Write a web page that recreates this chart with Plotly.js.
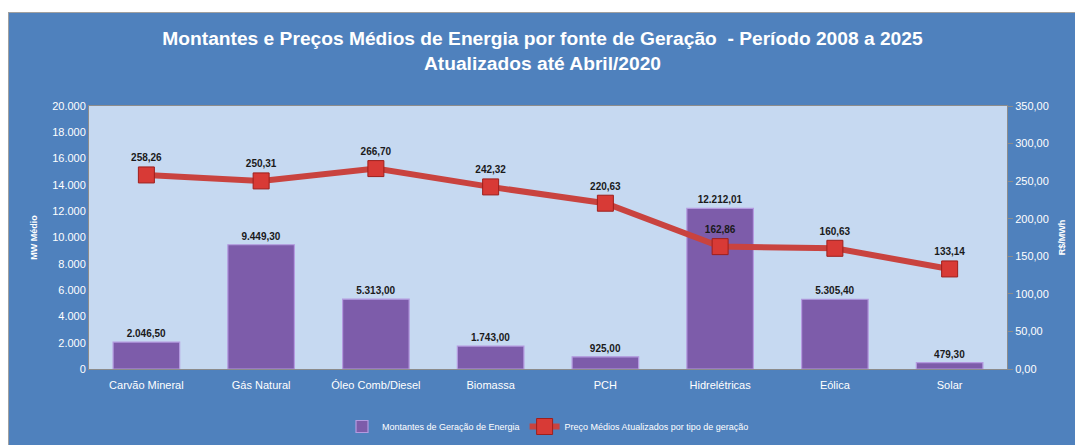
<!DOCTYPE html>
<html><head><meta charset="utf-8">
<script src="https://cdn.plot.ly/plotly-3.0.1.min.js"></script>
<style>
html,body{margin:0;padding:0;background:#ffffff;}
#chart{position:absolute;left:8px;top:12px;width:1067px;height:433px;border-top:1px solid #a0a0a0;border-left:1px solid #a0a0a0;box-sizing:border-box;overflow:hidden;}
</style></head>
<body><div id="chart"></div>
<script>
const categories = ["Carvão Mineral","Gás Natural","Óleo Comb/Diesel","Biomassa","PCH","Hidrelétricas","Eólica","Solar"];
const montantes = [2046.50, 9449.30, 5313.00, 1743.00, 925.00, 12212.01, 5305.40, 479.30];
const precos = [258.26, 250.31, 266.70, 242.32, 220.63, 162.86, 160.63, 133.14];
const yTicksLeft = [0,2000,4000,6000,8000,10000,12000,14000,16000,18000,20000];
const yTicksRight = [0,50,100,150,200,250,300,350];

function fmtBR(v){
  const parts = v.toFixed(2).split('.');
  parts[0] = parts[0].replace(/\B(?=(\d{3})+(?!\d))/g,'.');
  return parts[0] + ',' + parts[1];
}
const narrow = '"Liberation Sans Narrow", "Arial Narrow", Arial, sans-serif';

const bars = {
  type:'bar', x:categories, y:montantes, name:'Montantes de Geração de Energia',
  width:0.58,
  marker:{color:'#7d5caa', line:{color:'#b49ae0', width:1.2}},
  text:montantes.map(fmtBR), texttemplate:'<b>%{text}</b>', textposition:'outside', cliponaxis:false,
  textfont:{family:'Arial, sans-serif', size:10, color:'#1a1a1a'},
  hoverinfo:'x+y'
};
const line = {
  type:'scatter', mode:'lines+markers+text', x:categories, y:precos, yaxis:'y2',
  name:'Preço Médios Atualizados por tipo de geração',
  line:{color:'#c9433f', width:6},
  marker:{symbol:'square', size:16, color:'#d83a36', line:{color:'#9e1f1c', width:1}},
  text:precos.map(fmtBR), texttemplate:'<b>%{text}</b>', textposition:'top center', cliponaxis:false,
  textfont:{family:'Arial, sans-serif', size:10, color:'#1a1a1a'}
};

const layout = {
  width:1067, height:433,
  paper_bgcolor:'#4f81bd', plot_bgcolor:'#c6d9f1',
  separators:',.',
  margin:{l:80, r:69, t:93, b:77},
  title:{text:'<b>Montantes e Preços Médios de Energia por fonte de Geração  - Período 2008 a 2025<br>Atualizados até Abril/2020</b>',
    font:{family:narrow, size:19.2, color:'#ffffff'}, x:0.5, xanchor:'center', y:0.927, yanchor:'top'},
  showlegend:true,
  legend:{orientation:'h', x:0.5, xanchor:'center', yref:'container', y:0.045, yanchor:'middle',
    font:{family:narrow, size:9, color:'#ffffff'}, bgcolor:'rgba(0,0,0,0)'},
  bargap:0.42,
  xaxis:{type:'category', showgrid:false, showline:true, linecolor:'#8c8c8c', linewidth:1, mirror:true,
    ticks:'', ticklabelstandoff:6, tickfont:{family:narrow, size:11, color:'#ffffff'}, automargin:false},
  yaxis:{range:[0,20000], tickvals:yTicksLeft, tickformat:',.0f', showgrid:false, zeroline:false,
    showline:true, linecolor:'#8c8c8c', linewidth:1, ticks:'', ticklen:0,
    tickfont:{family:narrow, size:11, color:'#ffffff'}, automargin:false,
    title:{text:'<b>MW Médio</b>', font:{family:'Arial, sans-serif', size:9, color:'#ffffff'}, standoff:12}},
  yaxis2:{range:[0,350], tickvals:yTicksRight, tickformat:'.2f', overlaying:'y', side:'right',
    showgrid:false, zeroline:false, showline:true, linecolor:'#8c8c8c', linewidth:1,
    ticks:'outside', ticklen:5, tickcolor:'#8c8c8c',
    tickfont:{family:narrow, size:11, color:'#ffffff'}, automargin:false,
    title:{text:'<b>R$/MWh</b>', font:{family:'Arial, sans-serif', size:9, color:'#ffffff'}, standoff:10}}
};
Plotly.newPlot('chart', [bars, line], layout, {displayModeBar:false, staticPlot:true});
</script></body></html>
